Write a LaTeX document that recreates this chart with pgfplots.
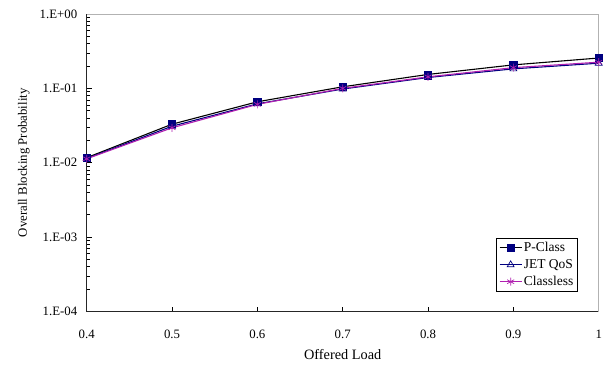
\documentclass[border=0pt]{standalone}
\usepackage{fontspec}
\setmainfont{Liberation Serif}
\usepackage{pgfplots}
\pgfplotsset{compat=1.18}
\definecolor{navy}{HTML}{000080}
\definecolor{purp}{HTML}{B020B0}
\begin{document}
\begin{tikzpicture}
\begin{axis}[
  scale only axis,
  width=512pt, height=297.5pt,
  ymode=log,
  xmin=0.4, xmax=1, ymin=1e-4, ymax=1,
  axis x line*=bottom, axis y line*=left,
  axis line style={black!85, line width=1.1pt},
  xtick={0.4,0.5,0.6,0.7,0.8,0.9,1},
  xticklabels={0.4,0.5,0.6,0.7,0.8,0.9,1},
  ytick={1e-4,1e-3,1e-2,1e-1,1},
  yticklabels={1.E-04,1.E-03,1.E-02,1.E-01,1.E+00},
  minor ytick={},
  x tick style={black, line width=0.7pt},
  y tick style={black, line width=0.7pt},
  tick align=inside,
  major tick length=5pt,
  tick label style={font=\fontsize{12.8}{15}\selectfont},
  /pgf/number format/assume math mode=true,
  xticklabel style={anchor=base, yshift=-27pt},
  yticklabel style={anchor=east, xshift=-6pt},
  xlabel={Offered Load},
  ylabel={Overall Blocking Probability},
  every axis x label/.style={at={(axis description cs:0.5,0)}, anchor=center, yshift=-43pt, font=\fontsize{14.3}{16}\selectfont},
  every axis y label/.style={at={(axis description cs:-0.123,0.5)}, rotate=90, anchor=center, font=\fontsize{12.8}{15}\selectfont},
  legend style={at={(0.959,0.067)}, anchor=south east, draw=black, line width=0.7pt,
    font=\fontsize{13.5}{15}\selectfont, row sep=3pt, inner sep=2.5pt,
    nodes={inner sep=1.6pt}},
  legend cell align=left,
  legend image code/.code={%
    \draw[#1] (0pt,0pt) -- (22pt,0pt);
    \draw[#1, only marks] plot coordinates {(11pt,0pt)};},
  legend image post style={line width=1pt},
  clip=false,
]
\addplot[black, line width=1.1pt, mark=square*, mark size=3.6pt, mark options={fill=navy, draw=navy, line width=0.6pt}]
  coordinates {(0.4,0.0117) (0.5,0.0330) (0.6,0.0660) (0.7,0.105) (0.8,0.154) (0.9,0.207) (1.0,0.256)};
\addlegendentry{P-Class}
\addplot[navy, line width=1.1pt, mark=triangle, mark size=4pt, mark options={fill=white, draw=navy, line width=0.7pt}]
  coordinates {(0.4,0.0114) (0.5,0.0310) (0.6,0.0620) (0.7,0.098) (0.8,0.140) (0.9,0.183) (1.0,0.218)};
\addlegendentry{JET QoS}
\addplot[purp, line width=1.1pt, mark=asterisk, mark size=4pt, mark options={draw=purp, line width=0.7pt}]
  coordinates {(0.4,0.0113) (0.5,0.0295) (0.6,0.0610) (0.7,0.100) (0.8,0.143) (0.9,0.190) (1.0,0.225)};
\addlegendentry{Classless}
\draw[gray!60, line width=1pt] (rel axis cs:0,1) -- (rel axis cs:1,1) -- (rel axis cs:1,0);
\coordinate (ll) at (rel axis cs:0,0);
\coordinate (ur) at (rel axis cs:1,1);
\end{axis}
\pgfresetboundingbox
\path ([shift={(-86.7pt,-53.5pt)}]ll) rectangle ([shift={(9.3pt,14pt)}]ur);
\end{tikzpicture}
\end{document}
